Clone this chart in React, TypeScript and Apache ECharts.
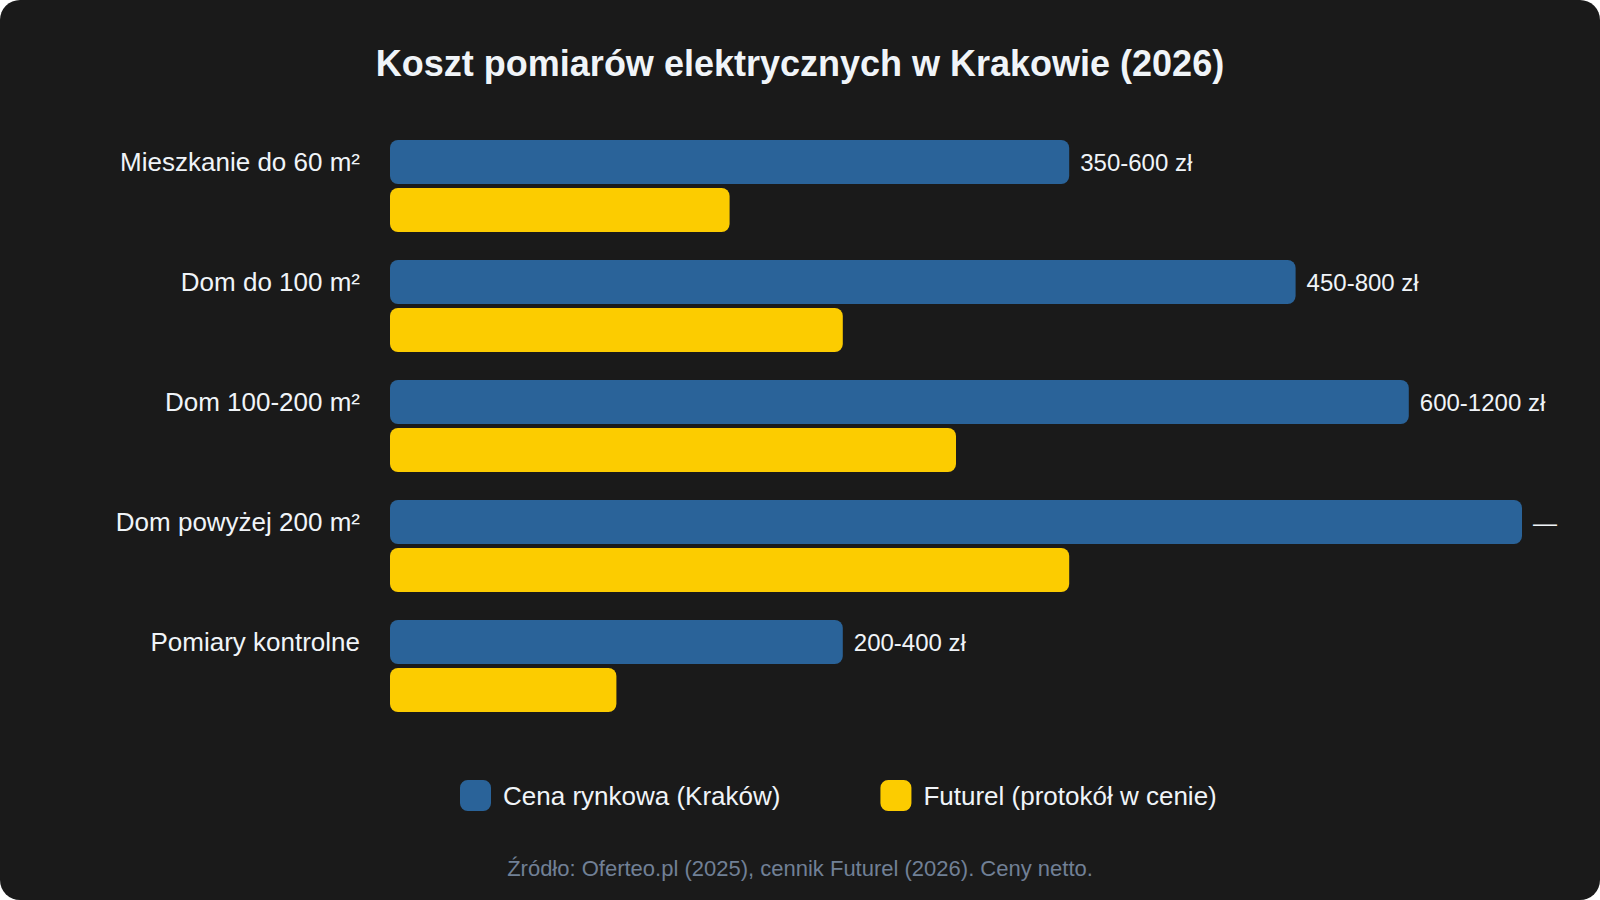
import React, { useEffect, useRef } from "react";
import * as echarts from "echarts";

const categories = [
  "Mieszkanie do 60 m²",
  "Dom do 100 m²",
  "Dom 100-200 m²",
  "Dom powyżej 200 m²",
  "Pomiary kontrolne",
];
const marketValues = [600, 800, 900, 1000, 400];
const futurelValues = [300, 400, 500, 600, 200];
const marketLabels = ["350-600 zł", "450-800 zł", "600-1200 zł", "—", "200-400 zł"];
const seriesNames = ["Cena rynkowa (Kraków)", "Futurel (protokół w cenie)"];

const FONT = "'Liberation Sans', Arial, Helvetica, sans-serif";

export default function App() {
  const ref = useRef<HTMLDivElement>(null);

  useEffect(() => {
    document.body.style.margin = "0";
    document.body.style.background = "#ffffff";
    if (!ref.current) return;
    const chart = echarts.init(ref.current, undefined, { renderer: "svg" });
    chart.setOption({
      animation: false,
      backgroundColor: "transparent",
      textStyle: { fontFamily: FONT },
      title: [
        {
          text: "Koszt pomiarów elektrycznych w Krakowie (2026)",
          left: "center",
          top: 40,
          textStyle: { color: "#f0f4f8", fontSize: 36, fontWeight: "bold", fontFamily: FONT },
        },
        {
          text: "Źródło: Oferteo.pl (2025), cennik Futurel (2026). Ceny netto.",
          left: "center",
          top: 852,
          textStyle: { color: "#718096", fontSize: 22, fontWeight: "normal", fontFamily: FONT },
        },
      ],
      legend: {
        data: seriesNames,
        left: 455,
        top: 775,
        itemWidth: 31,
        itemHeight: 31,
        itemGap: 100,
        icon: "roundRect",
        itemStyle: { borderRadius: 5 },
        textStyle: { color: "#f0f4f8", fontSize: 26, fontFamily: FONT, padding: [0, 0, 0, 7] },
      },
      grid: { left: 390, right: 78, top: 126, bottom: 174, containLabel: false },
      xAxis: {
        type: "value",
        min: 0,
        max: 1000,
        show: false,
      },
      yAxis: {
        type: "category",
        data: categories,
        inverse: true,
        axisLine: { show: false },
        axisTick: { show: false },
        splitLine: { show: false },
        axisLabel: {
          color: "#f0f4f8",
          fontSize: 26,
          fontFamily: FONT,
          margin: 30,
          verticalAlign: "bottom",
          lineHeight: 48,
        },
      },
      series: [
        {
          name: seriesNames[0],
          type: "bar",
          data: marketValues,
          barWidth: 44,
          barGap: "9%",
          itemStyle: { color: "#2a6399", borderRadius: 8 },
          label: {
            show: true,
            position: "right",
            distance: 11,
            color: "#f0f4f8",
            fontSize: 24,
            fontFamily: FONT,
            formatter: (p: any) => marketLabels[p.dataIndex],
          },
        },
        {
          name: seriesNames[1],
          type: "bar",
          data: futurelValues,
          barWidth: 44,
          itemStyle: { color: "#fccc00", borderRadius: 8 },
        },
      ],
    });
    return () => chart.dispose();
  }, []);

  return (
    <div
      style={{
        width: 1600,
        height: 900,
        background: "#1a1a1a",
        borderRadius: 20,
        overflow: "hidden",
      }}
    >
      <div ref={ref} style={{ width: 1600, height: 900 }} />
    </div>
  );
}
